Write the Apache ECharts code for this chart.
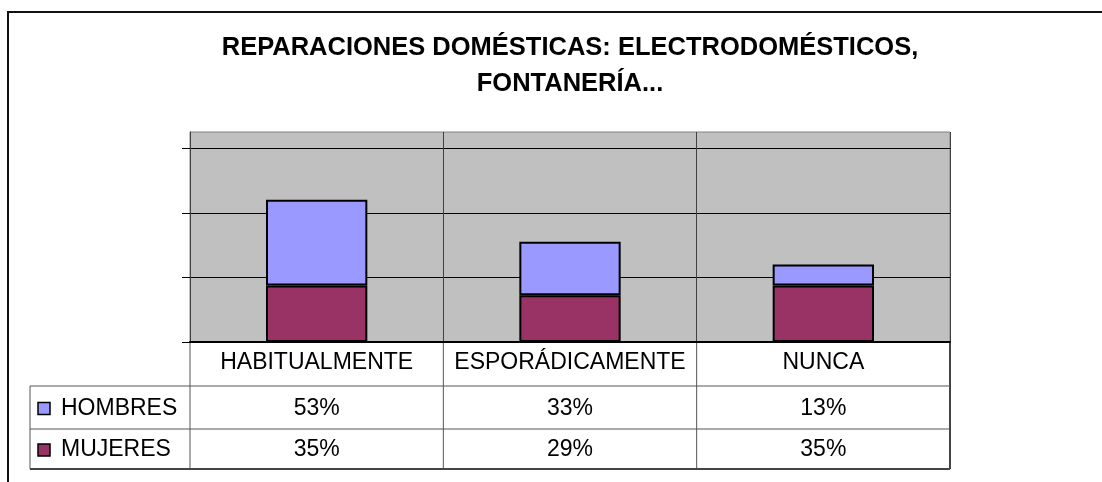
<!DOCTYPE html>
<html>
<head>
<meta charset="utf-8">
<script src="https://cdn.jsdelivr.net/npm/echarts@6/dist/echarts.min.js"></script>
<style>
  html, body { margin: 0; padding: 0; background: #fff; }
  #main { width: 1102px; height: 482px; }
</style>
</head>
<body>
<div id="main"></div>
<script>
// datos
var categorias = ['HABITUALMENTE', 'ESPORÁDICAMENTE', 'NUNCA'];
var hombres = [53, 33, 13];
var mujeres = [35, 29, 35];
var marcasY = [0, 40, 80, 120];

var colorHombres = '#9999FF';
var colorMujeres = '#993366';
var fuente = '"Liberation Sans", Arial, sans-serif';

var myChart = echarts.init(document.getElementById('main'));

myChart.setOption({
  animation: false,
  textStyle: { fontFamily: fuente },
  title: {
    text: 'REPARACIONES DOMÉSTICAS: ELECTRODOMÉSTICOS,\nFONTANERÍA...',
    left: 565,
    top: 25,
    textAlign: 'center',
    textStyle: { fontSize: 25.5, fontWeight: 'bold', color: '#000', lineHeight: 36, fontFamily: fuente }
  },
  grid: {
    left: 190, right: 152, top: 132, bottom: 140,
    show: true,
    backgroundColor: '#C0C0C0',
    borderColor: '#808080',
    borderWidth: 1
  },
  xAxis: {
    type: 'category',
    data: categorias,
    axisLine: { lineStyle: { color: '#000', width: 2 } },
    axisTick: { show: false },
    axisLabel: { color: '#000', fontSize: 23, margin: 9, interval: 0, fontFamily: fuente },
    splitLine: { show: true, interval: 0, lineStyle: { color: '#404040', width: 1 } }
  },
  yAxis: {
    type: 'value',
    min: 0,
    max: 130,
    interval: 40,
    axisLine: { show: true, lineStyle: { color: '#404040', width: 1 } },
    axisTick: { show: true, length: 8, customValues: marcasY, lineStyle: { color: '#000' } },
    axisLabel: { show: false, customValues: marcasY },
    splitLine: { show: true, lineStyle: { color: '#000', width: 1 } }
  },
  series: [
    {
      name: 'MUJERES',
      type: 'bar',
      stack: 'total',
      barWidth: '40%',
      data: mujeres,
      itemStyle: { color: colorMujeres, borderColor: '#000', borderWidth: 2 }
    },
    {
      name: 'HOMBRES',
      type: 'bar',
      stack: 'total',
      barWidth: '40%',
      data: hombres,
      itemStyle: { color: colorHombres, borderColor: '#000', borderWidth: 2 }
    }
  ]
});

// tabla de datos debajo del gráfico
var filas = [
  { nombre: 'HOMBRES', valores: hombres, color: colorHombres },
  { nombre: 'MUJERES', valores: mujeres, color: colorMujeres }
];
var xIzq = 190, xDer = 950, xLeyenda = 30;
var yEje = 342, yFilas = [386, 429, 469];
var linea = { stroke: '#555', lineWidth: 1 };
var elementos = [];

// marco exterior
elementos.push({ type: 'polyline', shape: { points: [[8, 482], [8, 12], [1102, 12]] }, style: { fill: null, stroke: '#111', lineWidth: 2 } });

// líneas verticales entre categorías
var bordes = [xIzq];
for (var i = 0; i < categorias.length; i++) {
  var c = myChart.convertToPixel({ xAxisIndex: 0 }, categorias[i]);
  var ancho = (xDer - xIzq) / categorias.length;
  bordes.push(c + ancho / 2);
}
bordes.forEach(function (bx, k) {
  elementos.push({ type: 'line', shape: { x1: bx, y1: yEje, x2: bx, y2: yFilas[2] }, style: k === bordes.length - 1 ? { stroke: '#444', lineWidth: 2 } : linea });
});
// horizontales
yFilas.forEach(function (fy, k) {
  elementos.push({ type: 'line', shape: { x1: xLeyenda, y1: fy, x2: xDer, y2: fy }, style: k === yFilas.length - 1 ? { stroke: '#444', lineWidth: 2 } : linea });
});
elementos.push({ type: 'line', shape: { x1: xLeyenda, y1: yFilas[0], x2: xLeyenda, y2: yFilas[2] }, style: linea });

filas.forEach(function (f, r) {
  var cy = (yFilas[r] + yFilas[r + 1]) / 2 + 1;
  elementos.push({ type: 'rect', shape: { x: 38, y: cy - 6, width: 12, height: 12 }, style: { fill: f.color, stroke: '#000', lineWidth: 1.5 } });
  elementos.push({ type: 'text', x: 61, y: cy, style: { text: f.nombre, font: '23px ' + fuente, fill: '#000', verticalAlign: 'middle' } });
  f.valores.forEach(function (v, j) {
    var cx = myChart.convertToPixel({ xAxisIndex: 0 }, categorias[j]);
    elementos.push({ type: 'text', x: cx, y: cy, style: { text: v + '%', font: '23px ' + fuente, fill: '#000', align: 'center', verticalAlign: 'middle' } });
  });
});

myChart.setOption({ graphic: { elements: elementos } });
</script>
</body>
</html>
